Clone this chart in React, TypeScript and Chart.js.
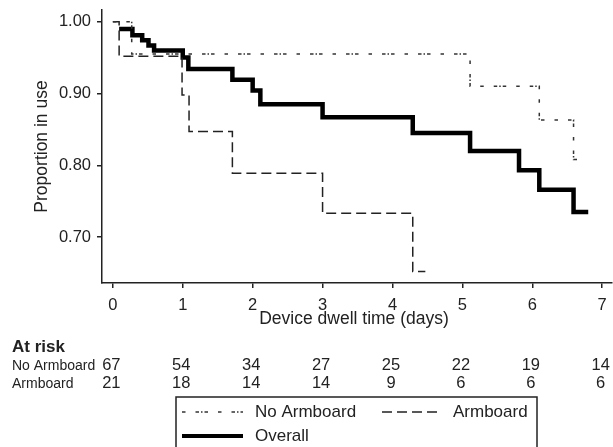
import React, { useEffect, useRef } from "react";
import { Chart, registerables } from "chart.js";

Chart.register(...registerables);

// ---- Data ----
const overallTimes = [0.09, 0.28, 0.42, 0.51, 0.59, 1.0, 1.08, 1.71, 2.0, 2.11, 3.0, 4.29, 5.11, 5.81, 6.1, 6.59, 6.8];
const overallValues = [0.99, 0.981, 0.974, 0.967, 0.96, 0.95, 0.934, 0.919, 0.904, 0.885, 0.867, 0.845, 0.82, 0.793, 0.766, 0.735, 0.735];

const noArmTimes = [0, 0.27, 5.11, 6.1, 6.59, 6.78];
const noArmValues = [1.0, 0.955, 0.91, 0.863, 0.808, 0.808];

const armTimes = [0, 0.09, 0.99, 1.09, 1.71, 3.0, 4.29, 4.47];
const armValues = [1.0, 0.952, 0.898, 0.847, 0.789, 0.733, 0.652, 0.652];

const xTickDays = [0, 1, 2, 3, 4, 5, 6, 7];
const yTickValues = [0.7, 0.8, 0.9, 1.0];
const atRiskNoArmboard = [67, 54, 34, 27, 25, 22, 19, 14];
const atRiskArmboard = [21, 18, 14, 14, 9, 6, 6, 6];

const FONT = "'Liberation Sans', Arial, sans-serif";
const TEXT = "#222";
const NOARM_DASH = [3.5, 10, 3.5, 2, 1.5, 2, 3.5, 10];
const ARM_DASH = [10, 5];

const toPoints = (xs: number[], ys: number[]) => xs.map((x, i) => ({ x, y: ys[i] }));

const belowPlugin = {
  id: "belowPlugin",
  afterDraw(chart: any) {
    const ctx: CanvasRenderingContext2D = chart.ctx;
    const xs = chart.scales.x;
    ctx.save();
    ctx.fillStyle = TEXT;
    // x-axis title
    ctx.font = `17.5px ${FONT}`;
    ctx.textAlign = "center";
    ctx.textBaseline = "alphabetic";
    ctx.fillText("Device dwell time (days)", 354, 324);

    // At risk table
    ctx.textAlign = "left";
    ctx.font = `bold 17px ${FONT}`;
    ctx.fillText("At risk", 12, 352);
    ctx.font = `14px ${FONT}`;
    ctx.fillText("No Armboard", 12, 370);
    ctx.fillText("Armboard", 12, 388);
    ctx.font = `16.5px ${FONT}`;
    ctx.textAlign = "center";
    xTickDays.forEach((d, i) => {
      const px = xs.getPixelForValue(d) - 1.5;
      ctx.fillText(String(atRiskNoArmboard[i]), px, 370);
      ctx.fillText(String(atRiskArmboard[i]), px, 388);
    });

    // Legend box
    ctx.strokeStyle = TEXT;
    ctx.lineWidth = 1.5;
    ctx.setLineDash([]);
    ctx.strokeRect(176, 397, 361, 70);

    const drawSample = (x1: number, x2: number, y: number, w: number, dash: number[], color: string) => {
      ctx.beginPath();
      ctx.strokeStyle = color;
      ctx.lineWidth = w;
      ctx.setLineDash(dash);
      ctx.moveTo(x1, y);
      ctx.lineTo(x2, y);
      ctx.stroke();
    };
    drawSample(182, 243, 412, 1.5, NOARM_DASH, "#333");
    drawSample(382, 442, 412, 1.5, ARM_DASH, "#222");
    drawSample(182, 243, 436, 4, [], "#000");
    ctx.setLineDash([]);
    ctx.font = `17px ${FONT}`;
    ctx.textAlign = "left";
    ctx.textBaseline = "middle";
    ctx.fillStyle = TEXT;
    ctx.fillText("No Armboard", 255, 412);
    ctx.fillText("Armboard", 453, 412);
    ctx.fillText("Overall", 255, 436);
    ctx.restore();
  },
};

export default function App() {
  const canvasRef = useRef<HTMLCanvasElement | null>(null);

  useEffect(() => {
    if (!canvasRef.current) return;
    const chart = new Chart(canvasRef.current, {
      type: "line",
      data: {
        datasets: [
          {
            label: "No Armboard",
            data: toPoints(noArmTimes, noArmValues),
            stepped: "before",
            borderColor: "#333",
            borderWidth: 1.5,
            borderDash: NOARM_DASH,
            pointRadius: 0,
            fill: false,
          },
          {
            label: "Armboard",
            data: toPoints(armTimes, armValues),
            stepped: "before",
            borderColor: "#222",
            borderWidth: 1.5,
            borderDash: ARM_DASH,
            pointRadius: 0,
            fill: false,
          },
          {
            label: "Overall",
            data: toPoints(overallTimes, overallValues),
            stepped: "before",
            borderColor: "#000",
            borderWidth: 4.5,
            pointRadius: 0,
            fill: false,
          },
        ],
      },
      options: {
        responsive: false,
        animation: false,
        devicePixelRatio: 1,
        layout: { padding: { left: 0, right: 1, top: 10, bottom: 0 } },
        plugins: { legend: { display: false }, tooltip: { enabled: false } },
        scales: {
          x: {
            type: "linear",
            min: -0.155,
            max: 7.14,
            afterBuildTicks: (scale: any) => {
              scale.ticks = xTickDays.map((v) => ({ value: v }));
            },
            afterFit: (scale: any) => {
              scale.height = 164;
              scale.paddingLeft = 0;
              scale.paddingRight = 0;
            },
            ticks: {
              color: TEXT,
              font: { family: FONT, size: 16.5 },
              padding: 8,
              maxRotation: 0,
              autoSkip: false,
              callback: (v: any) => String(v),
            },
            grid: { drawOnChartArea: false, drawTicks: true, tickLength: 5, color: TEXT, lineWidth: 1.5 },
            border: { display: true, color: TEXT, width: 1.5 },
          },
          y: {
            type: "linear",
            min: 0.636,
            max: 1.0163,
            afterBuildTicks: (scale: any) => {
              scale.ticks = yTickValues.map((v) => ({ value: v }));
            },
            afterFit: (scale: any) => {
              scale.width = 102;
              scale.paddingTop = 0;
              scale.paddingBottom = 0;
            },
            ticks: {
              color: TEXT,
              font: { family: FONT, size: 16.5 },
              padding: 6,
              autoSkip: false,
              callback: (v: any) => Number(v).toFixed(2),
            },
            title: {
              display: true,
              text: "Proportion in use",
              color: TEXT,
              font: { family: FONT, size: 17.5 },
              padding: { top: 32, bottom: 0 },
            },
            grid: { drawOnChartArea: false, drawTicks: true, tickLength: 5, color: TEXT, lineWidth: 1.5 },
            border: { display: true, color: TEXT, width: 1.5 },
          },
        },
      },
      plugins: [belowPlugin],
    } as any);
    return () => chart.destroy();
  }, []);

  return (
    <div style={{ position: "absolute", left: 0, top: 0, width: 613, height: 447, background: "#fff" }}>
      <canvas ref={canvasRef} width={613} height={447} style={{ width: 613, height: 447, display: "block" }} />
    </div>
  );
}
